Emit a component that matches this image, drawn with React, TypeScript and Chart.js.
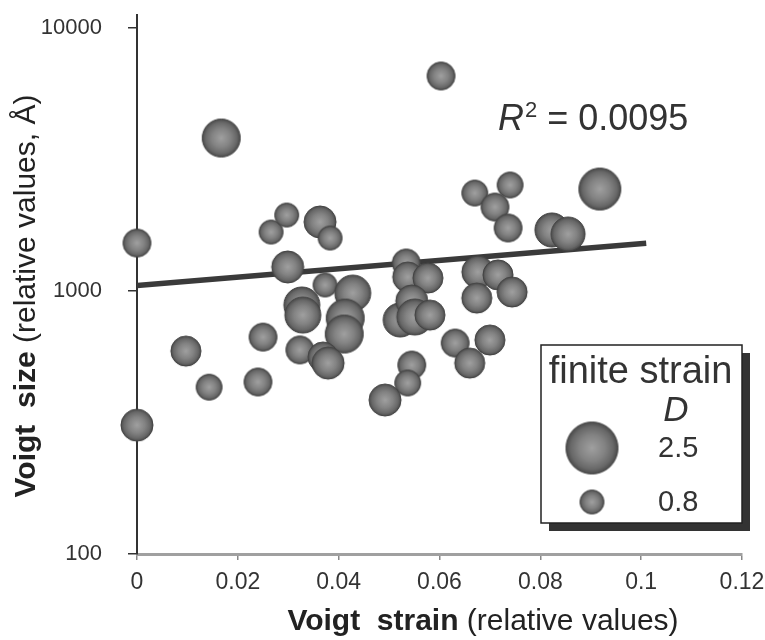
import React, { useEffect, useRef } from "react";
import { Chart, registerables } from "chart.js";

Chart.register(...registerables);

// ---- data ----
const strainX = [
  0, 0, 0.0167, 0.0603, 0.0918, 0.0097, 0.0143, 0.025, 0.024, 0.0266,
  0.0297, 0.0363, 0.0383, 0.0299, 0.0373, 0.0428, 0.0327, 0.0329, 0.0413, 0.0411,
  0.0323, 0.0369, 0.0379, 0.0534, 0.0537, 0.0577, 0.0522, 0.0545, 0.0551, 0.0581,
  0.0676, 0.0716, 0.0674, 0.0744, 0.0631, 0.07, 0.066, 0.0545, 0.0537, 0.0492,
  0.067, 0.074, 0.071, 0.0736, 0.0823, 0.0855,
];
const sizeY = [
  1522, 309, 3816, 6569, 2442, 591, 431, 668, 451, 1676,
  1945, 1830, 1590, 1234, 1054, 982, 885, 810, 789, 686,
  597, 561, 532, 1278, 1130, 1120, 776, 916, 796, 810,
  1181, 1151, 940, 991, 634, 651, 532, 523, 447, 385,
  2358, 2530, 2086, 1736, 1706, 1647,
];
const finiteD = [
  1.04, 1.29, 1.65, 1.04, 1.89, 1.17, 0.92, 1.04, 1.04, 0.8,
  0.8, 1.29, 0.8, 1.29, 0.8, 1.53, 1.53, 1.53, 1.65, 1.65,
  1.04, 1.17, 1.29, 1.04, 1.17, 1.17, 1.41, 1.29, 1.53, 1.17,
  1.29, 1.17, 1.17, 1.17, 1.04, 1.17, 1.17, 1.04, 0.92, 1.29,
  0.92, 0.92, 1.04, 1.04, 1.41, 1.41,
];
const trendX = [0, 0.101];
const trendY = [1050, 1520];
const xTicks = [0, 0.02, 0.04, 0.06, 0.08, 0.1, 0.12];
const yTicks = [100, 1000, 10000];
const legendD = [2.5, 0.8];
const r2Value = "0.0095";
const legendTitle = "finite strain";
const legendSymbol = "D";
const xTitleBold = "Voigt  strain";
const xTitleRest = " (relative values)";
const yTitleBold = "Voigt  size";
const yTitleRest = " (relative values, Å)";

const FONT = "'Liberation Sans', Arial, Helvetica, sans-serif";

const radiusOf = (d: number) => 5.4 + 8.24 * d;

const sphereCache = new Map<number, HTMLCanvasElement>();
function sphere(r: number): HTMLCanvasElement {
  const key = Math.round(r * 10);
  const hit = sphereCache.get(key);
  if (hit) return hit;
  const size = Math.ceil(r * 2 + 3);
  const c = document.createElement("canvas");
  c.width = size;
  c.height = size;
  const g = c.getContext("2d")!;
  const cx = size / 2;
  const grad = g.createRadialGradient(cx, cx, 0, cx, cx, r);
  grad.addColorStop(0, "#a0a0a0");
  grad.addColorStop(0.5, "#838383");
  grad.addColorStop(0.82, "#686868");
  grad.addColorStop(1, "#4a4a4a");
  g.beginPath();
  g.arc(cx, cx, r, 0, Math.PI * 2);
  g.fillStyle = grad;
  g.fill();
  g.lineWidth = 1;
  g.strokeStyle = "#434343";
  g.stroke();
  sphereCache.set(key, c);
  return c;
}

function drawParts(
  ctx: CanvasRenderingContext2D,
  parts: { text: string; font: string }[],
  cx: number,
  y: number
) {
  let total = 0;
  const widths = parts.map((p) => {
    ctx.font = p.font;
    const w = ctx.measureText(p.text).width;
    total += w;
    return w;
  });
  let x = cx - total / 2;
  ctx.textAlign = "left";
  ctx.textBaseline = "alphabetic";
  parts.forEach((p, i) => {
    ctx.font = p.font;
    ctx.fillText(p.text, x, y);
    x += widths[i];
  });
}

const overlayPlugin = {
  id: "overlay",
  afterDraw(chart: any) {
    const ctx: CanvasRenderingContext2D = chart.ctx;
    const xs = chart.scales.x;
    const ys = chart.scales.y;
    ctx.save();
    // y axis extension above top
    ctx.strokeStyle = "#333";
    ctx.lineWidth = 2;
    ctx.beginPath();
    ctx.moveTo(xs.left, ys.top);
    ctx.lineTo(xs.left, ys.top - 14);
    ctx.stroke();

    ctx.fillStyle = "#222";
    // x title
    drawParts(
      ctx,
      [
        { text: xTitleBold, font: `bold 30px ${FONT}` },
        { text: xTitleRest, font: `30px ${FONT}` },
      ],
      483,
      630
    );
    // y title
    ctx.save();
    ctx.translate(35, 296);
    ctx.rotate(-Math.PI / 2);
    drawParts(
      ctx,
      [
        { text: yTitleBold, font: `bold 30px ${FONT}` },
        { text: yTitleRest, font: `30px ${FONT}` },
      ],
      0,
      0
    );
    ctx.restore();

    // R^2 annotation
    ctx.fillStyle = "#333";
    ctx.textAlign = "left";
    ctx.textBaseline = "alphabetic";
    let rx = 498;
    const rb = 130;
    ctx.font = `italic 36px ${FONT}`;
    ctx.fillText("R", rx, rb);
    rx += ctx.measureText("R").width + 1;
    ctx.font = `22px ${FONT}`;
    ctx.fillText("2", rx, rb - 13);
    rx += ctx.measureText("2").width;
    ctx.font = `36px ${FONT}`;
    ctx.fillText(" = " + r2Value, rx, rb);

    // legend box
    const bx = 541, by = 345, bw = 201, bh = 178;
    ctx.fillStyle = "#333";
    ctx.fillRect(bx + 8, by + 8, bw, bh);
    ctx.fillStyle = "#fff";
    ctx.fillRect(bx, by, bw, bh);
    ctx.strokeStyle = "#222";
    ctx.lineWidth = 1.5;
    ctx.strokeRect(bx, by, bw, bh);

    ctx.fillStyle = "#333";
    ctx.font = `38px ${FONT}`;
    ctx.textAlign = "center";
    ctx.fillText(legendTitle, bx + bw / 2 - 1, 383);
    ctx.font = `italic 35px ${FONT}`;
    ctx.fillText(legendSymbol, 676, 421);

    const ly = [448, 502];
    legendD.forEach((d, i) => {
      const img = sphere(radiusOf(d));
      ctx.drawImage(img, 592 - img.width / 2, ly[i] - img.height / 2);
      ctx.font = `29px ${FONT}`;
      ctx.textAlign = "left";
      ctx.textBaseline = "middle";
      ctx.fillStyle = "#333";
      ctx.fillText(String(d), 658, ly[i] + 1);
    });
    ctx.restore();
  },
};

export default function App() {
  const ref = useRef<HTMLCanvasElement | null>(null);
  useEffect(() => {
    if (!ref.current) return;
    const bubbles = strainX.map((x, i) => ({ x, y: sizeY[i], r: radiusOf(finiteD[i]) }));
    const trend = trendX.map((x, i) => ({ x, y: trendY[i] }));
    const chart = new Chart(ref.current, {
      type: "bubble",
      data: {
        datasets: [
          {
            type: "bubble",
            label: "Voigt",
            data: bubbles,
            clip: false,
            pointStyle: (c: any) => sphere(c.raw ? c.raw.r : 12),
            backgroundColor: "#777",
            borderColor: "#444",
            borderWidth: 1,
          } as any,
          {
            type: "line",
            label: "trend",
            data: trend,
            borderColor: "#3a3a3a",
            borderWidth: 5.5,
            pointRadius: 0,
            fill: false,
            borderCapStyle: "butt",
          } as any,
        ],
      },
      options: {
        responsive: false,
        animation: false,
        events: [],
        layout: { autoPadding: false, padding: { left: 0, right: 23, top: 28, bottom: 0 } },
        plugins: {
          legend: { display: false },
          tooltip: { enabled: false },
          title: { display: false },
        },
        scales: {
          x: {
            type: "linear",
            min: 0,
            max: 0.12,
            afterBuildTicks: (s: any) => {
              s.ticks = xTicks.map((v) => ({ value: v }));
            },
            afterFit: (s: any) => {
              s.height = 86;
              s.paddingLeft = 0;
              s.paddingRight = 0;
            },
            ticks: {
              autoSkip: false,
              maxRotation: 0,
              padding: 9,
              color: "#333",
              font: { family: FONT, size: 23 },
              callback: (v: any) => String(parseFloat(Number(v).toFixed(2))),
            },
            grid: {
              drawOnChartArea: false,
              drawTicks: true,
              tickLength: 6,
              color: "#888",
              lineWidth: 1.5,
            },
            border: { display: true, color: "#a0a0a0", width: 3 },
          },
          y: {
            type: "logarithmic",
            min: 100,
            max: 10000,
            afterBuildTicks: (s: any) => {
              s.ticks = yTicks.map((v) => ({ value: v }));
            },
            afterFit: (s: any) => {
              s.width = 137;
              s.paddingTop = 0;
              s.paddingBottom = 0;
            },
            ticks: {
              autoSkip: false,
              padding: 26,
              color: "#333",
              font: { family: FONT, size: 22 },
              callback: (v: any) => String(v),
            },
            grid: {
              drawOnChartArea: false,
              drawTicks: true,
              tickLength: 9,
              color: "#333",
              lineWidth: 1.5,
            },
            border: { display: true, color: "#333", width: 2 },
          },
        },
      },
      plugins: [overlayPlugin],
    } as any);
    return () => chart.destroy();
  }, []);
  return (
    <div style={{ position: "absolute", left: 0, top: 0, width: 765, height: 640, background: "#fff" }}>
      <canvas ref={ref} width={765} height={640} style={{ display: "block" }} />
    </div>
  );
}
